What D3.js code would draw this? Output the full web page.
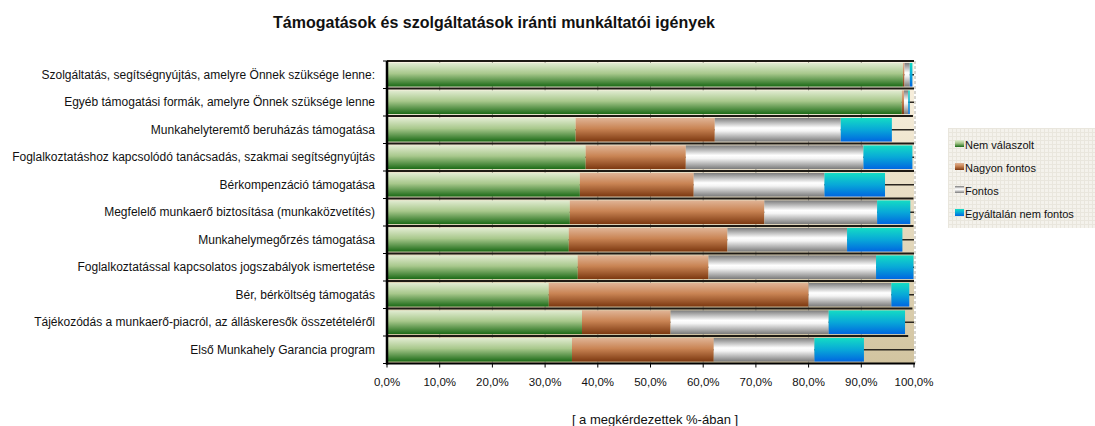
<!DOCTYPE html>
<html>
<head>
<meta charset="utf-8">
<script src="https://cdn.jsdelivr.net/npm/d3@7"></script>
<style>
	body { margin: 0; background: white; }
	#outer { width: 1095px; height: 426px; }
	text { font-family: 'Liberation Sans', Arial, sans-serif; }
</style>
</head>
<body>
<div id="outer"></div>
<script>
////////// DATA //////////
const categories = [
	'Szolgáltatás, segítségnyújtás, amelyre Önnek szüksége lenne:',
	'Egyéb támogatási formák, amelyre Önnek szüksége lenne',
	'Munkahelyteremtő beruházás támogatása',
	'Foglalkoztatáshoz kapcsolódó tanácsadás, szakmai segítségnyújtás',
	'Bérkompenzáció támogatása',
	'Megfelelő munkaerő biztosítása (munkaközvetítés)',
	'Munkahelymegőrzés támogatása',
	'Foglalkoztatással kapcsolatos jogszabályok ismertetése',
	'Bér, bérköltség támogatás',
	'Tájékozódás a munkaerő-piacról, az álláskeresők összetételéről',
	'Első Munkahely Garancia program'
];
const seriesNames = ['Nem válaszolt', 'Nagyon fontos', 'Fontos', 'Egyáltalán nem fontos'];
const nemValaszolt     = [97.9, 97.7, 35.8, 37.7, 36.6, 34.7, 34.5, 36.2, 30.7, 37.0, 35.1];
const nagyonFontos     = [0.3, 0.4, 26.4, 19.0, 21.6, 36.9, 30.1, 24.8, 49.3, 16.8, 26.9];
const fontos           = [1.0, 0.8, 23.9, 33.7, 24.8, 21.4, 22.7, 31.8, 15.7, 30.0, 19.1];
const egyaltalanNem    = [0.5, 0.3, 9.7, 9.3, 11.5, 6.3, 10.5, 7.1, 3.4, 14.5, 9.4];
const xTicks = [0, 10, 20, 30, 40, 50, 60, 70, 80, 90, 100];

////////// SETUP //////////
const W = 1095, H = 426;
const plot = { left: 387, right: 914, top: 61, bottom: 363.5 };

const svg = d3.select('#outer').append('svg')
	.attr('width', W)
	.attr('height', H);

const defs = svg.append('defs');
const vGrad = (id, stops) => {
	const g = defs.append('linearGradient').attr('id', id)
		.attr('x1', 0).attr('y1', 0).attr('x2', 0).attr('y2', 1);
	stops.forEach(s => g.append('stop').attr('offset', s[0]).attr('stop-color', s[1]));
};
vGrad('gGreen', [[0, '#e2ecd2'], [0.45, '#a8c88c'], [1, '#1b6a16']]);
vGrad('gBrown', [[0, '#e0b496'], [0.45, '#c98454'], [1, '#7c3810']]);
vGrad('gGray', [[0, '#7c7c7c'], [0.42, '#ffffff'], [0.55, '#f4f4f4'], [1, '#7a7a7a']]);
vGrad('gBlue', [[0, '#14dcc4'], [0.5, '#08a8d8'], [1, '#0066e0']]);
vGrad('gBack', [[0, '#fbf3e2'], [1, '#d2c4a0']]);
const fills = ['url(#gGreen)', 'url(#gBrown)', 'url(#gGray)', 'url(#gBlue)'];

const pat = defs.append('pattern').attr('id', 'legPat')
	.attr('width', 4).attr('height', 4).attr('patternUnits', 'userSpaceOnUse');
pat.append('rect').attr('width', 4).attr('height', 4).attr('fill', '#f4f2ec');
pat.append('path').attr('d', 'M0,0.5H4M0.5,0V4').attr('stroke', '#e9e6dd').attr('stroke-width', 1);

const x = d3.scaleLinear().domain([0, 100]).range([plot.left, plot.right]);
const y = d3.scaleBand().domain(categories).range([plot.top, plot.bottom])
	.paddingInner(0.14).paddingOuter(0.07);

// stack the rows
const rows = categories.map((c, i) => ({
	cat: c,
	nem: nemValaszolt[i], nagyon: nagyonFontos[i], fontos: fontos[i], egyaltalan: egyaltalanNem[i]
}));
const stack = d3.stack().keys(['nem', 'nagyon', 'fontos', 'egyaltalan'])(rows);
const totals = rows.map(r => r.nem + r.nagyon + r.fontos + r.egyaltalan);

////////// TITLE //////////
svg.append('text')
	.attr('x', 494).attr('y', 28)
	.attr('text-anchor', 'middle')
	.attr('font-size', '16px').attr('font-weight', 'bold')
	.attr('fill', '#111')
	.text('Támogatások és szolgáltatások iránti munkáltatói igények');

////////// PLOT BACKGROUND //////////
svg.append('rect')
	.attr('x', plot.left).attr('y', plot.top)
	.attr('width', plot.right - plot.left).attr('height', plot.bottom - plot.top)
	.attr('fill', 'url(#gBack)');

// vertical grid
svg.append('g').selectAll('line').data(xTicks.slice(1, -1)).join('line')
	.attr('x1', d => x(d)).attr('x2', d => x(d))
	.attr('y1', plot.top).attr('y2', plot.bottom)
	.attr('stroke', '#9a9488').attr('stroke-width', 1);

// right dashed border
svg.append('line')
	.attr('x1', plot.right + 1).attr('x2', plot.right + 1)
	.attr('y1', plot.top).attr('y2', plot.bottom)
	.attr('stroke', '#b0aca0').attr('stroke-dasharray', '3,2');

// center lines of rows
svg.append('g').selectAll('line').data(categories).join('line')
	.attr('x1', plot.left).attr('x2', plot.right)
	.attr('y1', d => y(d) + y.bandwidth() / 2).attr('y2', d => y(d) + y.bandwidth() / 2)
	.attr('stroke', '#2a2620').attr('stroke-width', 1.5);

// boundary lines between rows
const step = y.step();
const boundaries = d3.range(categories.length).map(i => ({
	yy: plot.top + i * step,
	len: i === 0 ? 100 : Math.max(totals[i - 1], totals[i]) + 0.6
}));
svg.append('g').selectAll('line').data(boundaries).join('line')
	.attr('x1', plot.left).attr('x2', d => x(Math.min(100, d.len)))
	.attr('y1', d => d.yy).attr('y2', d => d.yy)
	.attr('stroke', '#1e1a14').attr('stroke-width', 1.8);

////////// BARS //////////
svg.append('g').selectAll('g').data(stack).join('g')
	.attr('fill', (d, i) => fills[i])
	.selectAll('rect').data(d => d).join('rect')
	.attr('x', d => x(d[0]))
	.attr('y', d => y(d.data.cat))
	.attr('width', d => x(d[1]) - x(d[0]))
	.attr('height', y.bandwidth());

////////// AXES //////////
const yAxis = svg.append('g');
yAxis.append('line')
	.attr('x1', plot.left).attr('x2', plot.left)
	.attr('y1', plot.top).attr('y2', plot.bottom + 1)
	.attr('stroke', '#000').attr('stroke-width', 2.5);
yAxis.selectAll('.tk').data(d3.range(categories.length + 1)).join('line')
	.attr('x1', plot.left - 4).attr('x2', plot.left)
	.attr('y1', i => plot.top + i * step).attr('y2', i => plot.top + i * step)
	.attr('stroke', '#000').attr('stroke-width', 1);
yAxis.selectAll('text').data(categories).join('text')
	.attr('x', 375)
	.attr('y', d => y(d) + y.bandwidth() / 2)
	.attr('dy', '0.35em')
	.attr('text-anchor', 'end')
	.attr('font-size', '12px')
	.attr('fill', '#111')
	.text(d => d);

const fmt = v => v.toFixed(1).replace('.', ',') + '%';
const xAxis = svg.append('g');
xAxis.append('line')
	.attr('x1', plot.left - 1).attr('x2', plot.right + 1)
	.attr('y1', plot.bottom).attr('y2', plot.bottom)
	.attr('stroke', '#000').attr('stroke-width', 2);
xAxis.selectAll('line.tk').data(xTicks).join('line')
	.attr('class', 'tk')
	.attr('x1', d => x(d)).attr('x2', d => x(d))
	.attr('y1', plot.bottom).attr('y2', plot.bottom + 4)
	.attr('stroke', '#000');
xAxis.selectAll('text').data(xTicks).join('text')
	.attr('x', d => x(d)).attr('y', 386)
	.attr('text-anchor', 'middle')
	.attr('font-size', '11.5px')
	.attr('fill', '#111')
	.text(fmt);

svg.append('text')
	.attr('x', 655).attr('y', 424)
	.attr('text-anchor', 'middle')
	.attr('font-size', '13px')
	.attr('fill', '#111')
	.text('[ a megkérdezettek %-ában ]');

////////// LEGEND //////////
const legend = svg.append('g').attr('transform', 'translate(948,128)');
legend.append('rect')
	.attr('width', 147).attr('height', 100)
	.attr('fill', 'url(#legPat)');
const item = legend.selectAll('g').data(seriesNames).join('g')
	.attr('transform', (d, i) => `translate(7,${17 + i * 23})`);
item.append('rect')
	.attr('x', 0).attr('y', -5).attr('width', 9).attr('height', 7)
	.attr('fill', (d, i) => fills[i]);
item.append('text')
	.attr('x', 10).attr('y', 0).attr('dy', '0.35em')
	.attr('font-size', '11px')
	.attr('fill', '#111')
	.text(d => d);
</script>
</body>
</html>
